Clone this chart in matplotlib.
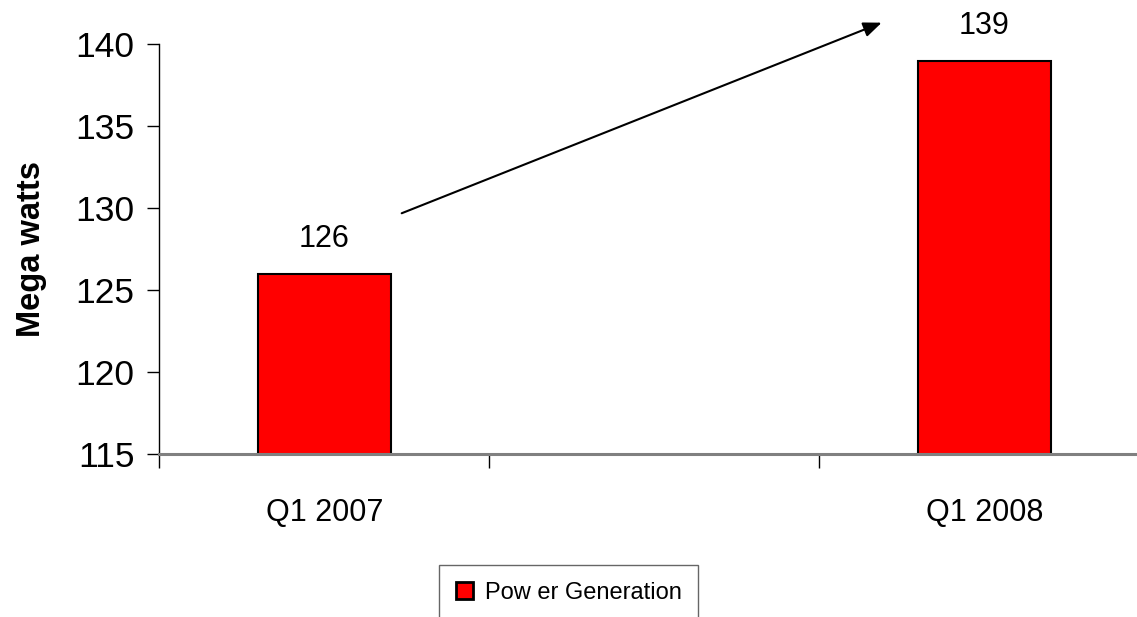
import numpy as np
import matplotlib
matplotlib.use("Agg")
import matplotlib.pyplot as plt

# Quarterly power generation (MW); the middle slot is an empty category
categories = ["Q1 2007", "", "Q1 2008"]
power_mw = [126, np.nan, 139]
series_name = "Pow er Generation"
y_ticks = [115, 120, 125, 130, 135, 140]

plt.rcParams["font.family"] = ["Liberation Sans", "DejaVu Sans"]

W, H = 1137, 617
fig = plt.figure(figsize=(W / 100, H / 100), dpi=100)
fig.patch.set_facecolor("white")

# axes box in pixel terms: left 159.3, right 1149.3 (runs past the canvas), top 44.3, bottom 454
left, right, top, bottom = 159.3, 1149.3, 44.3, 454.0
ax = fig.add_axes([left / W, 1 - bottom / H, (right - left) / W, (bottom - top) / H])

x = np.arange(len(categories))
bars = ax.bar(x, power_mw, width=0.404, color="#ff0000", edgecolor="black",
              linewidth=1.5, label=series_name, zorder=2)

ax.set_xlim(-0.5, len(categories) - 0.5)
ax.set_ylim(y_ticks[0], y_ticks[-1])
ax.set_yticks(y_ticks)
ax.tick_params(axis="y", direction="out", length=9, width=1, color="black",
               labelsize=25.5, pad=9)

# category labels centred, tick marks on category boundaries
ax.set_xticks(x)
ax.set_xticklabels(categories)
ax.set_xticks(np.arange(len(categories) + 1) - 0.5, minor=True)
ax.tick_params(axis="x", which="major", length=0, labelsize=22, pad=32)
ax.tick_params(axis="x", which="minor", direction="out", length=10, width=1, color="black")

for side in ("top", "right"):
    ax.spines[side].set_visible(False)
ax.spines["left"].set_color("black")
ax.spines["left"].set_linewidth(1)
ax.spines["bottom"].set_color("#808080")
ax.spines["bottom"].set_linewidth(2.2)
ax.spines["bottom"].set_zorder(3)

ax.set_ylabel("Mega watts", fontsize=23.5, fontweight="bold", labelpad=20)

# value labels above each bar
for xi, v in zip(x, power_mw):
    if np.isnan(v):
        continue
    ax.annotate(f"{v:g}", xy=(xi, v), xytext=(0, 19.5), textcoords="offset points",
                ha="center", va="baseline", fontsize=22, annotation_clip=False)

# growth arrow
ax.annotate("", xy=(1.689, 141.32), xytext=(0.2345, 129.69),
            arrowprops=dict(arrowstyle="-|>,head_length=1.1,head_width=0.45",
                            color="black", lw=1.5, shrinkA=0, shrinkB=0),
            annotation_clip=False)

leg = ax.legend(loc="upper left", bbox_to_anchor=(439 / W, 1 - 565 / H),
                bbox_transform=fig.transFigure, frameon=True, fancybox=False,
                fontsize=17, handlelength=0.75, handleheight=0.75, handletextpad=0.5,
                borderpad=0.7, borderaxespad=0)
leg.get_frame().set_edgecolor("#404040")
leg.get_frame().set_linewidth(1)
for h in leg.legend_handles:
    h.set_linewidth(2)

fig.savefig("out.png", dpi=100, facecolor="white")
